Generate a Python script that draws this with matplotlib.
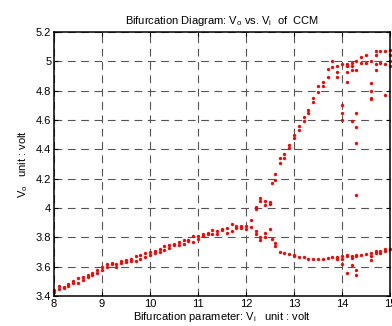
import numpy as np
import matplotlib
matplotlib.use("Agg")
import matplotlib.pyplot as plt

plt.rcParams['font.family'] = ['Liberation Sans', 'DejaVu Sans']
plt.rcParams['mathtext.default'] = 'regular'
plt.rcParams['font.size'] = 8

# period-1 branch, Vi = 8.0 ... 12.1 (low / high sample in each column)
vi_main = [8.0, 8.1, 8.2, 8.3, 8.4, 8.5, 8.6, 8.7, 8.8, 8.9,
           9.0, 9.1, 9.2, 9.3, 9.4, 9.5, 9.6, 9.7, 9.8, 9.9,
           10.0, 10.1, 10.2, 10.3, 10.4, 10.5, 10.6, 10.7, 10.8, 10.9,
           11.0, 11.1, 11.2, 11.3, 11.4, 11.5, 11.6, 11.7, 11.8, 11.9,
           12.0, 12.1]
vo_main = [[3.43, 3.44], [3.45, 3.47], [3.455, 3.46], [3.47, 3.48], [3.49, 3.50],
           [3.49, 3.52], [3.51, 3.53], [3.53, 3.54], [3.54, 3.56], [3.56, 3.58],
           [3.58, 3.60], [3.60, 3.615], [3.615, 3.625], [3.60, 3.62], [3.625, 3.64],
           [3.635, 3.645], [3.64, 3.655], [3.64, 3.67], [3.655, 3.68], [3.665, 3.69],
           [3.68, 3.70], [3.69, 3.71], [3.70, 3.72], [3.715, 3.74], [3.73, 3.745],
           [3.745, 3.755], [3.75, 3.765], [3.755, 3.78], [3.775, 3.785], [3.77, 3.81],
           [3.79, 3.81], [3.81, 3.825], [3.82, 3.83], [3.82, 3.85], [3.82, 3.84],
           [3.85, 3.86], [3.83, 3.865], [3.84, 3.89], [3.865, 3.875], [3.865, 3.875],
           [3.86, 3.88], [3.87, 3.92]]

# upper branch after the period doubling
vi_upper = [12.2, 12.3, 12.4, 12.5, 12.55, 12.6, 12.7, 12.8, 12.9,
            13.0, 13.1, 13.2, 13.3, 13.4, 13.5, 13.6, 13.7, 13.8, 13.9,
            14.0, 14.1, 14.2, 14.3, 14.4, 14.5, 14.6, 14.7, 14.8, 14.9, 15.0]
vo_upper = [[3.99, 4.01], [4.05, 4.07], [4.02, 4.05], [4.03, 4.04], [4.17],
            [4.19, 4.23], [4.31, 4.34], [4.34, 4.37], [4.41, 4.43],
            [4.48, 4.50], [4.53, 4.56], [4.59, 4.62], [4.65, 4.67], [4.72, 4.75],
            [4.79, 4.83], [4.83, 4.86], [4.89, 4.95], [4.96, 5.00], [4.89, 4.93, 4.97],
            [4.98], [4.86, 4.93, 4.97, 4.98], [4.94, 4.97, 4.99], [4.94, 5.00],
            [4.99, 5.03], [4.99, 5.04], [5.00], [4.94, 4.98, 5.04, 5.07],
            [4.99, 5.07], [4.98, 5.07], [4.97, 5.00, 5.04, 5.08]]

# lower branch after the period doubling
vi_lower = [12.2, 12.3, 12.4, 12.5, 12.55, 12.6, 12.7, 12.8, 12.9,
            13.0, 13.1, 13.2, 13.3, 13.4, 13.5, 13.6, 13.7, 13.8, 13.9,
            14.0, 14.1, 14.2, 14.3, 14.4, 14.5, 14.6, 14.7, 14.8, 14.9, 15.0]
vo_lower = [[3.82, 3.84], [3.78, 3.80], [3.80, 3.83], [3.86], [3.79],
            [3.74, 3.76], [3.70], [3.695], [3.685],
            [3.67, 3.68], [3.665], [3.665], [3.65], [3.655],
            [3.65], [3.655], [3.66], [3.665], [3.65, 3.665],
            [3.655, 3.67], [3.67, 3.68], [3.66, 3.675], [3.67, 3.68], [3.68],
            [3.685], [3.645, 3.67, 3.69], [3.69, 3.705], [3.69, 3.705],
            [3.71, 3.72], [3.72]]

# scattered (chaotic) samples
vi_chaos = [14.0, 14.1, 14.2, 14.3, 14.6, 14.9]
vo_chaos = [[4.70, 4.65, 4.60, 3.62], [3.56], [4.59, 3.61],
            [4.65, 4.55, 4.44, 4.09, 3.58, 3.54],
            [4.85, 4.80, 4.75, 4.74], [4.77]]


def flatten(vi, vo):
    xs, ys = [], []
    for x, col in zip(vi, vo):
        xs += [x] * len(col)
        ys += list(col)
    return np.array(xs), np.array(ys)


fig = plt.figure(figsize=(3.92, 3.26), dpi=100)
ax = fig.add_axes([0.1378, 0.092, 0.857, 0.81])

for vi, vo in [(vi_main, vo_main), (vi_upper, vo_upper),
               (vi_lower, vo_lower), (vi_chaos, vo_chaos)]:
    x, y = flatten(vi, vo)
    ax.plot(x, y, 'o', color='red', markersize=2.4, markeredgewidth=0, clip_on=False)

ax.set_xlim(8, 15)
ax.set_ylim(3.4, 5.2)
ax.set_xticks(np.arange(8, 16))
yt = np.round(np.arange(3.4, 5.21, 0.2), 1)
ax.set_yticks(yt)
ax.set_yticklabels(['%g' % v for v in yt])
ax.tick_params(direction='in', top=True, right=True, length=3, width=0.8, pad=2)
for s in ax.spines.values():
    s.set_linewidth(1.1)

ax.grid(True, color='#555555', linewidth=0.8, linestyle=(0, (7, 5)))

ax.set_title(r'Bifurcation Diagram: V$_{o}$ vs. V$_{i}$  of  CCM', fontsize=8, pad=6)
ax.set_xlabel(r'Bifurcation parameter: V$_{i}$   unit : volt', fontsize=8, labelpad=1)
ax.set_ylabel(r'V$_{o}$   unit : volt', fontsize=8, labelpad=4)

fig.savefig('out.png', dpi=100)
